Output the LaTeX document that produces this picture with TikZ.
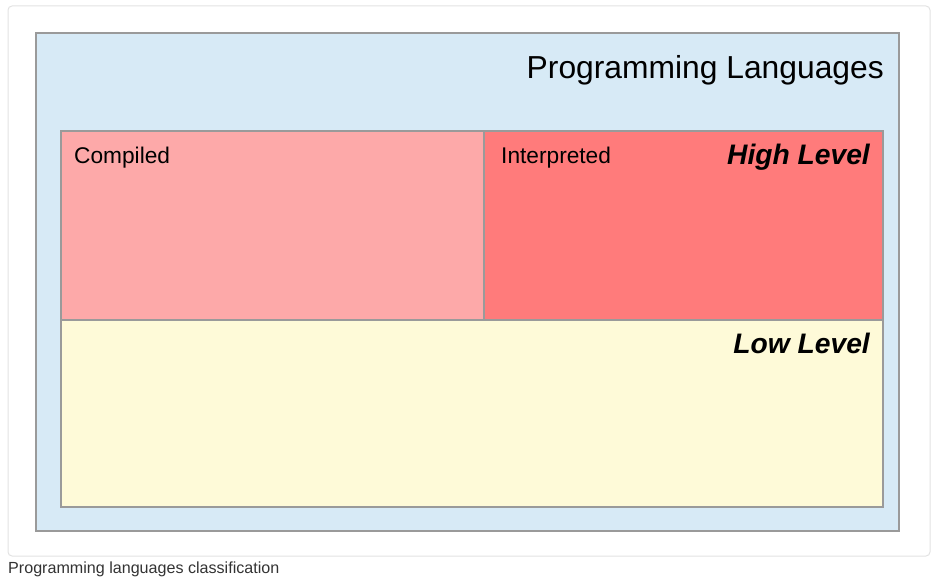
\documentclass[tikz,border=0pt]{standalone}
\usepackage{fontspec}
\setmainfont{Liberation Sans}
\definecolor{cardline}{HTML}{E2E2E2}
\definecolor{frame}{HTML}{9A9A9A}
\definecolor{langblue}{HTML}{D7EAF6}
\definecolor{compiledred}{HTML}{FDA9A9}
\definecolor{interpred}{HTML}{FF7B7B}
\definecolor{lowyellow}{HTML}{FEFAD8}
\definecolor{captiongray}{HTML}{333333}
\tikzset{
  region/.style={draw=frame, line width=1.5pt},
  boxlabel/.style={inner sep=0pt, anchor=base west, font=\fontsize{22.7}{26}\selectfont},
  levellabel/.style={inner sep=0pt, anchor=base east, font=\fontsize{28.2}{32}\selectfont\bfseries\itshape},
}
\begin{document}
\begin{tikzpicture}[x=1pt,y=-1pt]
  \useasboundingbox (0,0) rectangle (939,577);
  % card
  \draw[cardline, line width=1pt, rounded corners=4pt] (8,6) rectangle (930,556);
  % outer group
  \draw[region, fill=langblue, line width=2pt] (36,33) rectangle (899,531);
  \node[inner sep=0pt, anchor=base east, font=\fontsize{31.8}{36}\selectfont] (title) at (884,79) {Programming Languages};
  % level regions
  \draw[region, fill=compiledred] (61,131) rectangle (484,320);
  \draw[region, fill=interpred] (484,131) rectangle (883,320);
  \draw[region, fill=lowyellow] (61,320) rectangle (883,507);
  \node[boxlabel] (compiled) at (74,164) {Compiled};
  \node[boxlabel] (interp) at (501,164) {Interpreted};
  \node[levellabel] (high) at (870,165) {High Level};
  \node[levellabel] (low) at (870,353) {Low Level};
  % caption
  \node[inner sep=0pt, anchor=base west, text=captiongray, font=\fontsize{16.1}{19}\selectfont] (caption) at (8,573) {Programming languages classification};
\end{tikzpicture}
\end{document}
